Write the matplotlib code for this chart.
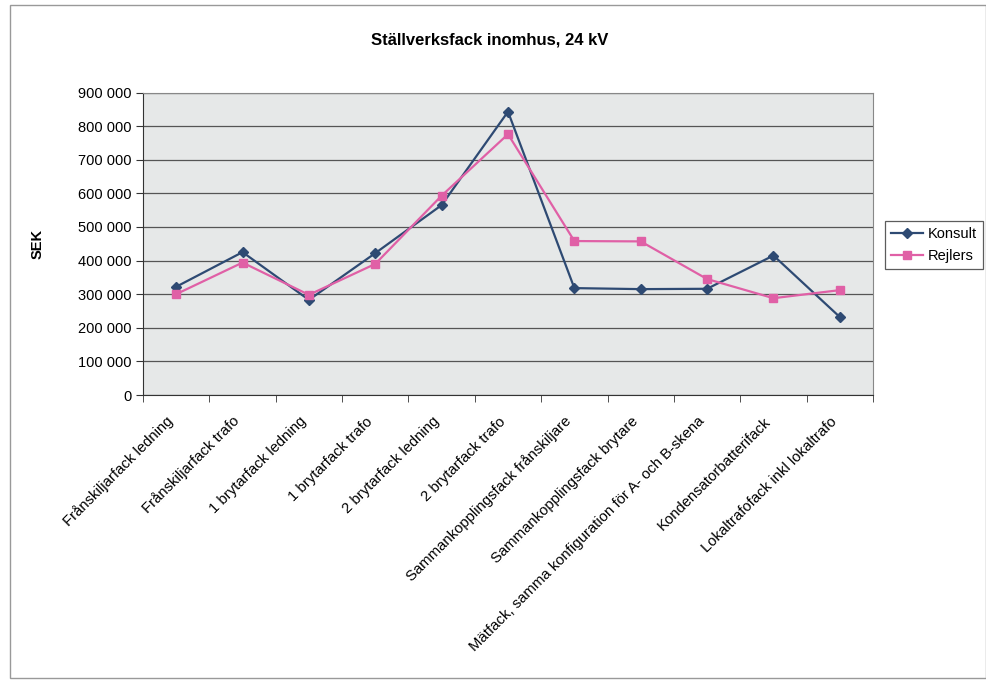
import numpy as np
import matplotlib.pyplot as plt
from matplotlib.ticker import FuncFormatter, MultipleLocator
from matplotlib.patches import Rectangle

# Data
categories = [
    "Frånskiljarfack ledning",
    "Frånskiljarfack trafo",
    "1 brytarfack ledning",
    "1 brytarfack trafo",
    "2 brytarfack ledning",
    "2 brytarfack trafo",
    "Sammankopplingsfack frånskiljare",
    "Sammankopplingsfack brytare",
    "Mätfack, samma konfiguration för A- och B-skena",
    "Kondensatorbatterifack",
    "Lokaltrafofack inkl lokaltrafo",
]
konsult = [322000, 425000, 283000, 422000, 565000, 843000, 318000, 315000, 316000, 415000, 232000]
rejlers = [300000, 394000, 298000, 390000, 593000, 776000, 458000, 457000, 345000, 288000, 312000]

plt.rcParams['font.family'] = ['Liberation Sans', 'DejaVu Sans']

fig = plt.figure(figsize=(9.87, 6.8), dpi=100)
W, H = 987, 680
# plot area in pixels: left 143, right 873, top 92.5, bottom 395
ax = fig.add_axes([143 / W, 1 - 395 / H, (873 - 143) / W, (395 - 92.5) / H])
ax.set_facecolor('#e6e8e8')

x = np.arange(len(categories))
ax.plot(x, konsult, color='#2e4a73', lw=1.6, marker='D', markersize=5.5, label='Konsult')
ax.plot(x, rejlers, color='#e060a6', lw=1.6, marker='s', markersize=5.5, label='Rejlers')

ax.set_xlim(-0.5, len(categories) - 0.5)
ax.set_ylim(0, 900000)
ax.yaxis.set_major_locator(MultipleLocator(100000))
ax.yaxis.set_major_formatter(FuncFormatter(lambda v, p: f"{int(v):,}".replace(",", " ")))
ax.grid(axis='y', color='#555555', lw=0.9)
ax.set_axisbelow(True)

ax.set_xticks(x)
ax.set_xticklabels(categories, rotation=45, ha='right', va='bottom',
                   rotation_mode='anchor', fontsize=10.7)
ax.set_xticks(np.arange(-0.5, len(categories)), minor=True)
ax.tick_params(axis='x', which='major', length=0, pad=21)
ax.tick_params(axis='x', which='minor', length=5, color='#333333')
ax.tick_params(axis='y', length=5, color='#333333', labelsize=10.5)

for s in ['top', 'right']:
    ax.spines[s].set_color('#888888')
for s in ['left', 'bottom']:
    ax.spines[s].set_color('#333333')

ax.set_ylabel('SEK', fontsize=10.5, fontweight='bold', labelpad=24)
fig.text(490 / W, 1 - 40 / H, 'Ställverksfack inomhus, 24 kV', ha='center', va='center',
         fontsize=12, fontweight='bold')

leg = fig.legend(loc='center', bbox_to_anchor=(934 / W, 1 - 245 / H), fontsize=10.5,
                 frameon=True, fancybox=False, edgecolor='#333333', handlelength=2.2,
                 borderpad=0.4, labelspacing=0.6, handletextpad=0.3)
leg.get_frame().set_linewidth(0.9)

# outer border of the chart
fig.patches.append(Rectangle((10 / W, 2 / H), (986 - 10) / W, (675 - 2) / H, transform=fig.transFigure,
                             fill=False, edgecolor='#999999', lw=1.0))

fig.savefig('out.png', dpi=100)
